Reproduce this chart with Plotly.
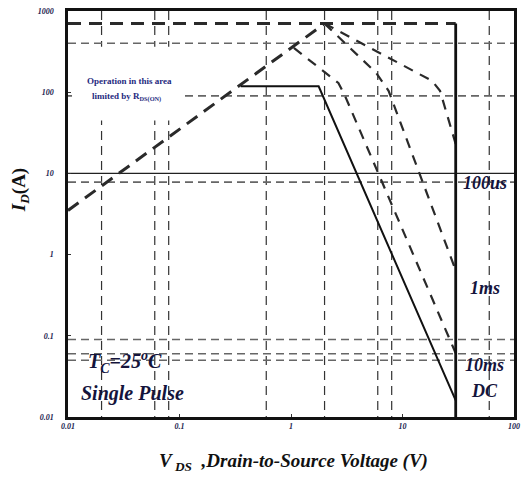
import plotly.graph_objects as go
import math

# ---- data (V in volts, I in amps) ----
v_rds = [0.01, 2.0]
i_rds = [3.5, 700]
v_idmax = [0.01, 30]
i_idmax = [700, 700]
v_100us = [2.0, 18.4, 21.7, 30]
i_100us = [700, 138, 104, 23]
v_1ms = [2.0, 5.8, 7.5, 30]
i_1ms = [700, 173, 104, 0.64]
v_10ms = [1.06, 2.66, 3.0, 30]
i_10ms = [351, 130, 95, 0.061]
v_dc = [0.354, 1.77, 30]
i_dc = [118, 118, 0.016]
v_bv = [30, 30]
i_bv = [700, 0.01]

grid_v = [0.02, 0.06, 0.08, 0.6, 2, 6, 8, 60]
grid_i_dashed = [400, 90, 7.8, 0.09, 0.06, 0.05]
grid_i_solid = [10]

x_range = [0.01, 100]
y_range = [0.01, 1000]
x_ticks = [0.01, 0.1, 1, 10, 100]
x_ticklabels = ["0.01", "0.1", "1", "10", "100"]
y_ticks = [0.01, 0.1, 1, 10, 100, 1000]
y_ticklabels = ["0.01", "0.1", "1", "10", "100", "1000"]


def vlines(vals):
    xs, ys = [], []
    for v in vals:
        xs += [v, v, None]
        ys += [y_range[1], y_range[0], None]
    return xs, ys


def hlines(vals):
    xs, ys = [], []
    for v in vals:
        xs += [x_range[0], x_range[1], None]
        ys += [v, v, None]
    return xs, ys


fig = go.Figure()

gx, gy = vlines(grid_v)
fig.add_trace(go.Scatter(x=gx, y=gy, mode="lines", hoverinfo="skip",
                         line=dict(color="#333333", width=1.2, dash="9px,6px")))
hx, hy = hlines(grid_i_dashed)
fig.add_trace(go.Scatter(x=hx, y=hy, mode="lines", hoverinfo="skip",
                         line=dict(color="#666666", width=1.6, dash="8px,5px")))
sx, sy = hlines(grid_i_solid)
fig.add_trace(go.Scatter(x=sx, y=sy, mode="lines", hoverinfo="skip",
                         line=dict(color="#222222", width=1.4)))

thick = dict(color="#2a2a2a", width=3, dash="13px,8px")
pulse = dict(color="#2a2a2a", width=2.2, dash="10px,8px")

fig.add_trace(go.Scatter(x=v_rds, y=i_rds, mode="lines", line=thick))
fig.add_trace(go.Scatter(x=v_idmax, y=i_idmax, mode="lines", line=thick))
fig.add_trace(go.Scatter(x=v_100us, y=i_100us, mode="lines", line=pulse))
fig.add_trace(go.Scatter(x=v_1ms, y=i_1ms, mode="lines", line=pulse))
fig.add_trace(go.Scatter(x=v_10ms, y=i_10ms, mode="lines", line=pulse))
fig.add_trace(go.Scatter(x=v_dc, y=i_dc, mode="lines",
                         line=dict(color="#111111", width=2)))
fig.add_trace(go.Scatter(x=v_bv, y=i_bv, mode="lines",
                         line=dict(color="#111111", width=2.8)))

serif = "Liberation Serif"
navy = "#14143c"
tickfont = dict(family=serif, size=8, color="#1c1c50", weight="bold", style="italic")

fig.update_xaxes(type="log", range=[math.log10(x_range[0]), math.log10(x_range[1])],
                 tickvals=x_ticks, ticktext=x_ticklabels, tickfont=tickfont,
                 showgrid=False, zeroline=False, showline=True, linecolor="#111111",
                 linewidth=2.5, mirror=True, ticks="inside", ticklen=3, tickwidth=1,
                 tickcolor="#333333")
fig.update_yaxes(type="log", range=[math.log10(y_range[0]), math.log10(y_range[1])],
                 tickvals=y_ticks, ticktext=y_ticklabels, tickfont=tickfont,
                 showgrid=False, zeroline=False, showline=True, linecolor="#111111",
                 linewidth=2.5, mirror=True, ticks="inside", ticklen=3, tickwidth=1,
                 tickcolor="#333333", ticklabelstandoff=10)

# white mask behind the note text
fig.add_shape(type="rect", xref="paper", yref="paper", x0=0.009, x1=0.252,
              y0=0.73, y1=0.912, fillcolor="white", line=dict(width=0), layer="above")

big = dict(family=serif, size=18, color=navy, weight="bold", style="italic")
big2 = dict(family=serif, size=20, color=navy, weight="bold", style="italic")
note = dict(family=serif, size=9, color="#1f2a80", weight="bold")
annots = [
    ("100us", 491, 182, big),
    ("1ms", 491, 288, big),
    ("10ms", 490, 365, big),
    ("DC", 490, 391, big),
    ("T<sub>C</sub>=25<sup>o</sup>C", 126, 362, big2),
    ("Single Pulse", 133, 393, big2),
    ("Operation in this area", 130, 80, note),
    ("limited by R<sub>DS(ON)</sub>", 127, 96, note),
]
L, T, W, H = 68, 10, 452, 407
for txt, px, py, f in annots:
    fig.add_annotation(text=txt, x=(px - L) / W, y=(T + H - py) / H, xref="paper",
                       yref="paper", showarrow=False, font=f, xanchor="center",
                       yanchor="middle")

fig.add_annotation(text="<i>I<sub>D</sub></i>(A)", x=(19 - L) / W, y=(T + H - 190) / H,
                   xref="paper", yref="paper", showarrow=False, textangle=-90,
                   font=dict(family=serif, size=19, color="#111111", weight="bold"),
                   xanchor="center", yanchor="middle")
fig.add_annotation(text="<i>V<sub> DS</sub>  ,Drain-to-Source Voltage (V)</i>",
                   x=(297 - L) / W, y=(T + H - 462) / H,
                   xref="paper", yref="paper", showarrow=False,
                   font=dict(family=serif, size=19, color="#111111", weight="bold"),
                   xanchor="center", yanchor="middle")

fig.update_layout(width=527, height=479, showlegend=False,
                  margin=dict(l=68, r=7, t=10, b=62),
                  plot_bgcolor="white", paper_bgcolor="white")

fig.write_html("out.html")
